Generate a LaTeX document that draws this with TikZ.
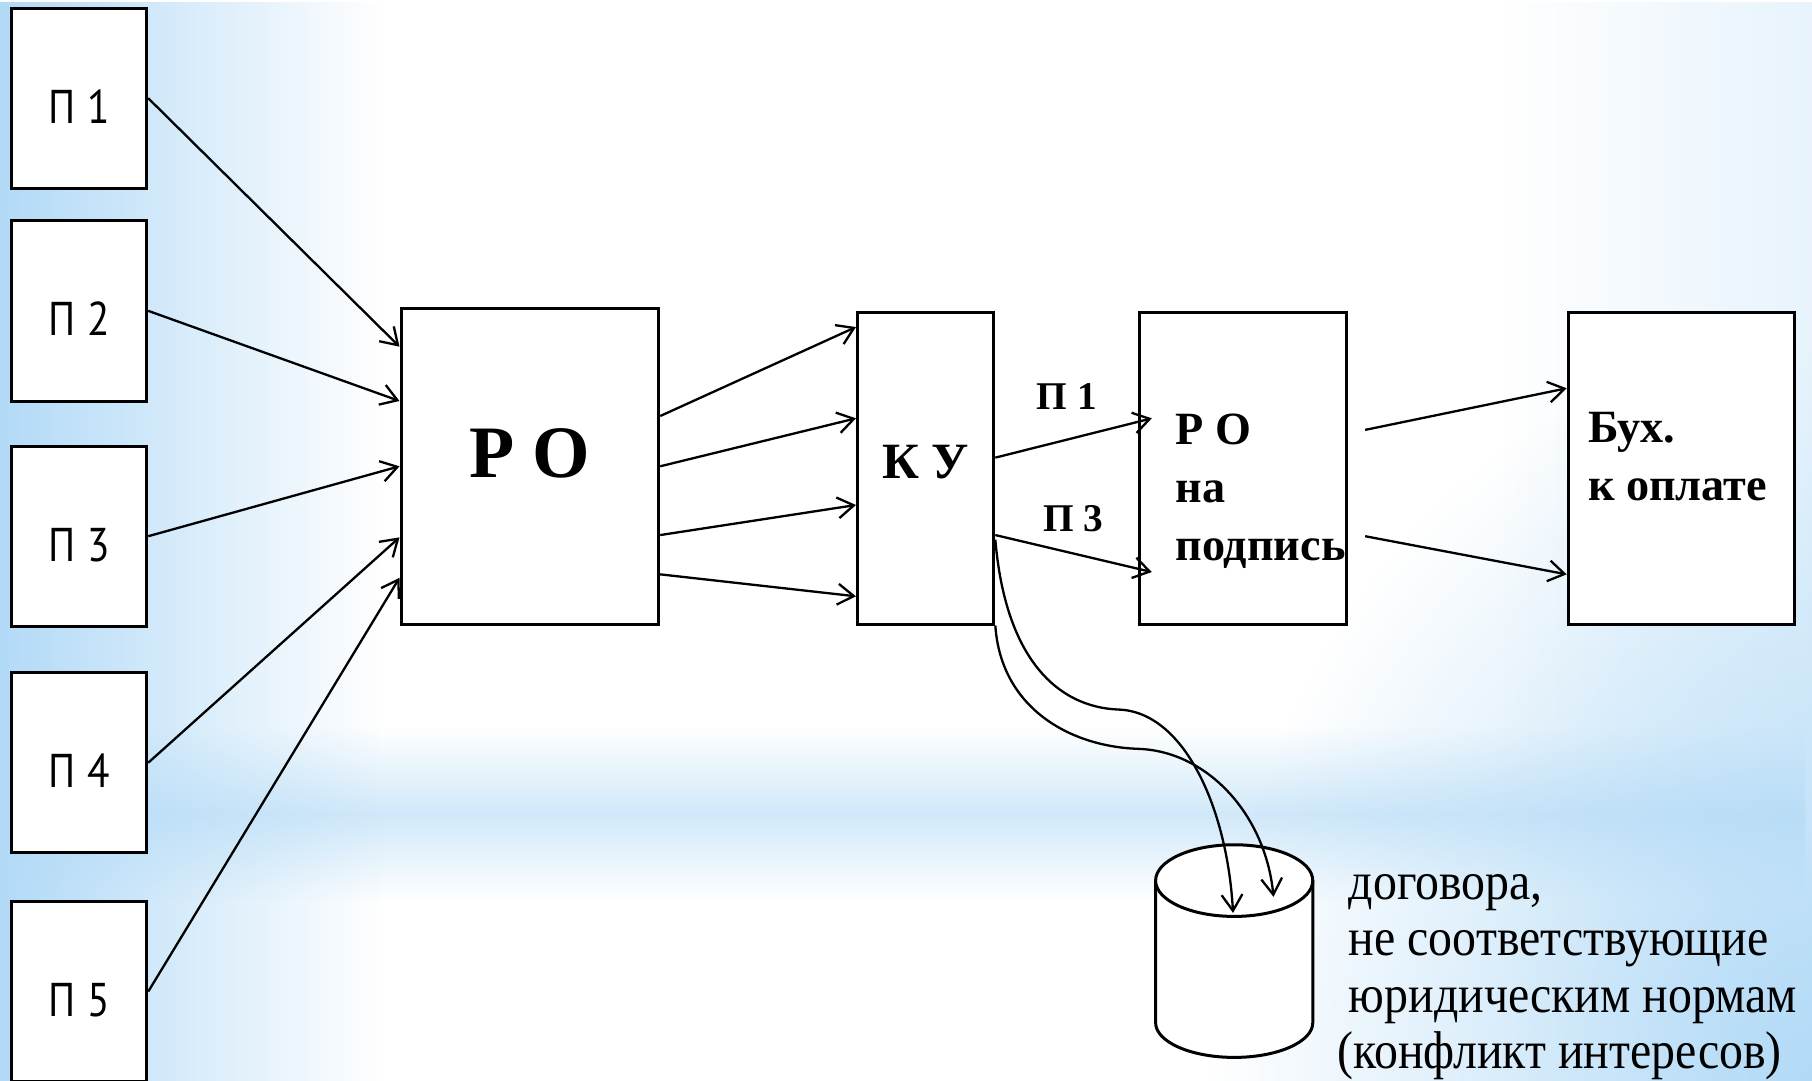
\documentclass[tikz,border=0pt]{standalone}
\usepackage{fontspec}
\setmainfont{Liberation Serif}
\newfontfamily\psans[FakeStretch=0.87]{PT Sans}
\newfontfamily\condserif[FakeStretch=0.9]{Liberation Serif}
\usetikzlibrary{calc, arrows.meta, fadings}
\definecolor{bgblue}{RGB}{178,218,247}
\tikzfading[name=fadeleft, left color=transparent!0, right color=transparent!100]
\tikzfading[name=faderight, left color=transparent!100, right color=transparent!0]
\tikzfading[name=fadeband, top color=transparent!100, bottom color=transparent!100, middle color=transparent!0]
\tikzfading[name=fadecorner, inner color=transparent!0, outer color=transparent!100]

\begin{document}
\begin{tikzpicture}[x=1pt, y=-1pt, >={Straight Barb[length=14pt,width=18pt]},
  arr/.style={->, line width=2pt},
  box/.style={draw, fill=white, line width=2.6pt, inner sep=0pt, minimum height=270pt},
  pbox/.style={box, minimum width=117pt, minimum height=156pt,
    font=\psans\fontsize{41}{44}\selectfont, text height=43pt, text depth=0pt},
  btext/.style={align=left, inner sep=0pt, font=\bfseries\fontsize{40}{50}\selectfont},
  lbl/.style={inner sep=0pt, font=\bfseries\fontsize{34}{36}\selectfont}]
  \useasboundingbox (0,0) rectangle (1568,935);
  \fill [white] (0,0) rectangle (1568,935);
  \fill [bgblue, path fading=fadeband, fill opacity=0.6] (0,630) rectangle (1568,780);
  \fill [bgblue, path fading=fadeleft] (0,0) rectangle (330,935);
  \fill [bgblue, path fading=faderight, fill opacity=0.3] (1300,0) rectangle (1568,935);
  \begin{scope}
    \clip (0,0) rectangle (1568,935);
    \fill [bgblue, path fading=fadecorner] (1050,300) rectangle (2086,1570);
  \end{scope}

  \node [pbox] (P1) at (68.5,85) {П 1};
  \node [pbox] (P2) at (68.5,269) {П 2};
  \node [pbox] (P3) at (68.5,464) {П 3};
  \node [pbox] (P4) at (68.5,660) {П 4};
  \node [pbox] (P5) at (68.5,858) {П 5};

  \node [box, minimum width=223pt, minimum height=273pt, text height=42pt, text depth=23pt,
    font=\bfseries\fontsize{64}{66}\selectfont] (RO) at (458.5,403.5) {Р О};
  \node [box, minimum width=118pt, text height=31pt, text depth=13pt,
    font=\bfseries\fontsize{44}{46}\selectfont] (KU) at (801,405) {К У};
  \node [box, minimum width=179pt] (RO2) at (1075.5,405) {};
  \node [box, minimum width=196pt] (Bux) at (1455,405) {};
  \node [btext, anchor=base west] (RO2t) at (1017,485) {Р О\\на\\подпись};
  \node [btext, anchor=base west] (Buxt) at (1374,433) {Бух.\\к оплате};

  \draw [line width=2.6pt, fill=white] (1000,762) -- (1000,885)
    arc [start angle=180, end angle=360, x radius=68pt, y radius=30pt] -- (1136,762);
  \draw [line width=2.6pt, fill=white] (1068,762) ellipse [x radius=68pt, y radius=31pt];
  \coordinate (in1) at (1067,790);
  \coordinate (in2) at (1102,776);
  \node [anchor=base west, align=left, inner sep=0pt, font=\condserif\fontsize{46}{49}\selectfont]
    (note) at (1167,925) {договора,\\не соответствующие\\юридическим нормам\\\hspace*{-10pt}(конфликт интересов)};

  \draw [arr] (P1.east) -- ([yshift=103.5pt]RO.west);
  \draw [arr] (P2.east) -- ([yshift=56.5pt]RO.west);
  \draw [arr] (P3.east) -- (RO.west);
  \draw [arr] (P4.east) -- ([yshift=-61.5pt]RO.west);
  \draw [arr] (P5.east) -- ([yshift=-96.5pt]RO.west);

  \draw [arr] ([yshift=43.5pt]RO.east) -- ([yshift=122pt]KU.west);
  \draw [arr] (RO.east) -- ([yshift=43pt]KU.west);
  \draw [arr] ([yshift=-59.5pt]RO.east) -- ([yshift=-32pt]KU.west);
  \draw [arr] ([yshift=-93.5pt]RO.east) -- ([yshift=-111pt]KU.west);

  \draw [arr] ([yshift=9pt]KU.east) -- ([xshift=12pt,yshift=43pt]RO2.west)
    node [lbl, midway, above=24pt, xshift=-6pt] {П 1};
  \draw [arr] ([yshift=-58pt]KU.east) -- ([xshift=12pt,yshift=-90pt]RO2.west)
    node [lbl, midway, above=17.5pt] {П 3};

  \draw [arr] ([xshift=15pt,yshift=33pt]RO2.east) -- ([yshift=69pt]Bux.west);
  \draw [arr] ([xshift=15pt,yshift=-59pt]RO2.east) -- ([yshift=-92pt]Bux.west);

  \draw [arr] ([yshift=-62pt]KU.east) .. controls (870,570) and (915,612) .. (968,614)
    .. controls (1025,616) and (1062,700) .. (in1);
  \draw [arr] (KU.south east) .. controls (866,612) and (925,646) .. (985,648)
    .. controls (1045,650) and (1095,705) .. (in2);
\end{tikzpicture}
\end{document}
